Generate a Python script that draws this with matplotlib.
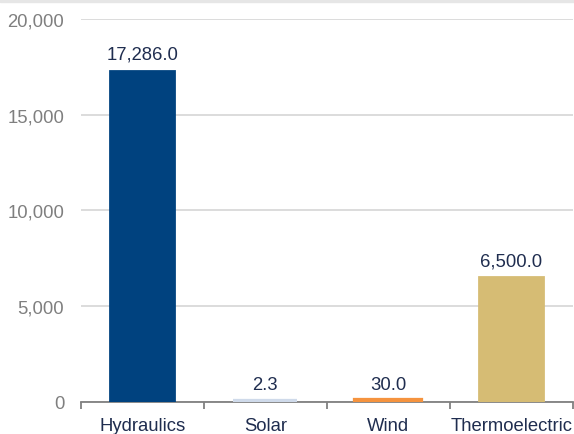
import matplotlib.pyplot as plt
import numpy as np
from matplotlib.patches import Rectangle

categories = ['Hydraulics', 'Solar', 'Wind', 'Thermoelectric']
values = [17286.0, 2.3, 30.0, 6500.0]
colors = ['#00427f', '#cfdaea', '#f5933e', '#d6bc74']
yticks = [0, 5000, 10000, 15000, 20000]

plt.rcParams['font.family'] = ['Liberation Sans', 'DejaVu Sans']
fs = 13.3

fig = plt.figure(figsize=(5.74, 4.35), dpi=100)
ax = fig.add_axes([0.141, 0.074, 0.857, 0.880])

# thin grey strip along the top edge
fig.patches.append(Rectangle((0, 0.993), 1, 0.007, transform=fig.transFigure,
                             color='#e6e6e6', zorder=0))

x = np.arange(len(categories))
# thick outline on the tiny bars so they stay visible, like the original
ax.bar(x, values, width=0.52, color=colors, edgecolor=colors,
       linewidth=[2, 4.5, 4.5, 2], zorder=5)
for xi, v in zip(x, values):
    ax.annotate('{:,.1f}'.format(v), (xi, v), xytext=(0, 6),
                textcoords='offset points', ha='center', va='bottom',
                fontsize=fs, color='#1f2d4f')

ax.set_xlim(-0.5, len(categories) - 0.5)
ax.set_ylim(0, 20000)
ax.set_yticks(yticks)
ax.set_yticklabels(['{:,}'.format(t) for t in yticks])
ax.yaxis.grid(True, color='#d9d9d9', linewidth=1.3, zorder=0)
ax.tick_params(axis='y', length=0, pad=12, labelsize=fs, labelcolor='#7f7f7f')

ax.set_xticks(x)
ax.set_xticklabels(categories)
ax.set_xticks(np.arange(-0.5, len(categories)), minor=True)
ax.tick_params(axis='x', which='major', length=0, pad=11, labelsize=fs,
               labelcolor='#1f2d4f')
ax.tick_params(axis='x', which='minor', length=5, width=1.3, color='#808080')

for s in ['top', 'right', 'left']:
    ax.spines[s].set_visible(False)
ax.spines['bottom'].set_color('#808080')
ax.spines['bottom'].set_linewidth(1.3)

fig.savefig('out.png', dpi=100)
